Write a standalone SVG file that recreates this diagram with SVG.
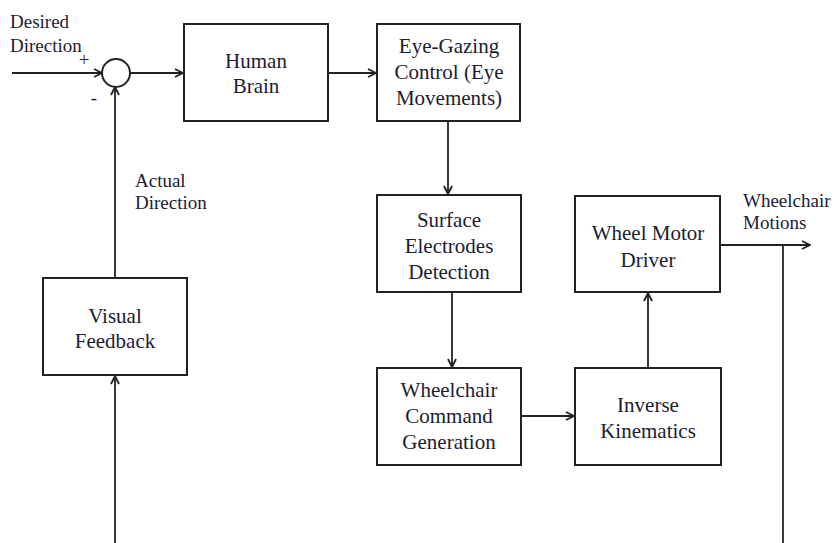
<svg xmlns="http://www.w3.org/2000/svg" width="834" height="543" viewBox="0 0 834 543">
  <style>
    .box { fill: #ffffff; stroke: #222222; stroke-width: 2; }
    .wire { fill: none; stroke: #222222; stroke-width: 1.8; }
    .txt { font-family: "Liberation Serif", "Times New Roman", serif; font-size: 21px; fill: #1c1c30; text-anchor: middle; }
    .lbl { font-family: "Liberation Serif", "Times New Roman", serif; font-size: 19px; fill: #1c1c30; }
  </style>
  <defs>
    <marker id="arrow" viewBox="0 0 10 10" refX="9" refY="5" markerWidth="10" markerHeight="10" markerUnits="userSpaceOnUse" orient="auto">
      <path d="M1,1 L9,5 L1,9" fill="none" stroke="#222222" stroke-width="1.8"/>
    </marker>
  </defs>

  <rect width="834" height="543" fill="#ffffff"/>

  <!-- connectors -->
  <g id="connectors">
    <line class="wire" x1="12" y1="73" x2="102" y2="73" marker-end="url(#arrow)"/>
    <line class="wire" x1="130" y1="73" x2="183" y2="73" marker-end="url(#arrow)"/>
    <line class="wire" x1="328" y1="73" x2="376" y2="73" marker-end="url(#arrow)"/>
    <line class="wire" x1="448" y1="121" x2="448" y2="194" marker-end="url(#arrow)"/>
    <line class="wire" x1="452" y1="292" x2="452" y2="367" marker-end="url(#arrow)"/>
    <line class="wire" x1="521" y1="416" x2="574" y2="416" marker-end="url(#arrow)"/>
    <line class="wire" x1="648" y1="368" x2="648" y2="293" marker-end="url(#arrow)"/>
    <line class="wire" x1="720" y1="245" x2="810" y2="245" marker-end="url(#arrow)"/>
    <line class="wire" x1="783" y1="245" x2="783" y2="543"/>
    <line class="wire" x1="115" y1="543" x2="115" y2="376" marker-end="url(#arrow)"/>
    <line class="wire" x1="115" y1="278" x2="115" y2="87" marker-end="url(#arrow)"/>
  </g>

  <!-- summing junction -->
  <g id="sum">
    <circle cx="116" cy="73" r="14" fill="#ffffff" stroke="#222222" stroke-width="2"/>
    <text class="lbl" x="84" y="66" text-anchor="middle">+</text>
    <text class="lbl" x="94" y="104" text-anchor="middle">-</text>
  </g>

  <g id="desired">
    <text class="lbl" x="10" y="28">Desired</text>
    <text class="lbl" x="10" y="52">Direction</text>
  </g>

  <g id="actual">
    <text class="lbl" x="135" y="187">Actual</text>
    <text class="lbl" x="135" y="209">Direction</text>
  </g>

  <g id="motions">
    <text class="lbl" x="743" y="207">Wheelchair</text>
    <text class="lbl" x="743" y="229">Motions</text>
  </g>

  <g id="brain">
    <rect class="box" x="184" y="24" width="144" height="97"/>
    <text class="txt" x="256" y="68">Human</text>
    <text class="txt" x="256" y="93">Brain</text>
  </g>

  <g id="eyegaze">
    <rect class="box" x="377" y="24" width="143" height="97"/>
    <text class="txt" x="449" y="53">Eye-Gazing</text>
    <text class="txt" x="449" y="79">Control (Eye</text>
    <text class="txt" x="449" y="105">Movements)</text>
  </g>

  <g id="electrodes">
    <rect class="box" x="377" y="195" width="144" height="97"/>
    <text class="txt" x="449" y="227">Surface</text>
    <text class="txt" x="449" y="253">Electrodes</text>
    <text class="txt" x="449" y="279">Detection</text>
  </g>

  <g id="motor">
    <rect class="box" x="575" y="196" width="145" height="96"/>
    <text class="txt" x="648" y="240">Wheel Motor</text>
    <text class="txt" x="648" y="267">Driver</text>
  </g>

  <g id="command">
    <rect class="box" x="377" y="368" width="144" height="97"/>
    <text class="txt" x="449" y="397">Wheelchair</text>
    <text class="txt" x="449" y="423">Command</text>
    <text class="txt" x="449" y="449">Generation</text>
  </g>

  <g id="kinematics">
    <rect class="box" x="575" y="368" width="146" height="97"/>
    <text class="txt" x="648" y="412">Inverse</text>
    <text class="txt" x="648" y="438">Kinematics</text>
  </g>

  <g id="feedback">
    <rect class="box" x="43" y="278" width="144" height="97"/>
    <text class="txt" x="115" y="323">Visual</text>
    <text class="txt" x="115" y="348">Feedback</text>
  </g>
</svg>
